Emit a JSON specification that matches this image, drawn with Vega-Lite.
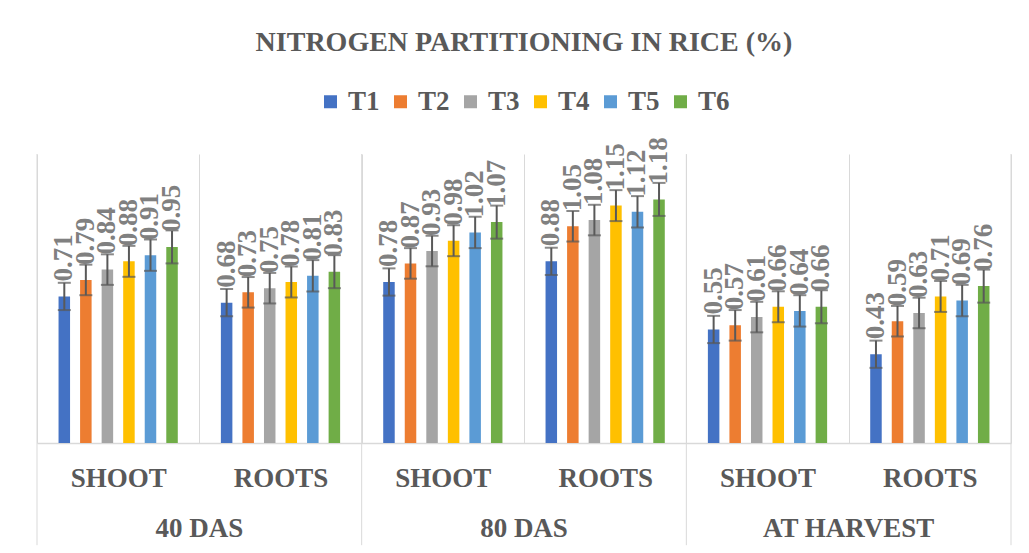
{
  "$schema": "https://vega.github.io/schema/vega-lite/v6.json",
  "width": 974,
  "height": 289,
  "autosize": {"type": "none"},
  "padding": {"left": 37, "top": 154, "right": 18, "bottom": 110},
  "background": "white",
  "title": {
    "text": "NITROGEN PARTITIONING IN RICE (%)",
    "font": "Liberation Serif",
    "fontSize": 28,
    "fontWeight": "bold",
    "color": "#595959",
    "anchor": "middle",
    "frame": "group",
    "offset": 31
  },
  "data": {
    "values": [
      {"group": "40 DAS|SHOOT", "stage": "40 DAS", "part": "SHOOT", "trt": "T1", "value": 0.71, "err": 0.066},
      {"group": "40 DAS|SHOOT", "stage": "40 DAS", "part": "SHOOT", "trt": "T2", "value": 0.79, "err": 0.074},
      {"group": "40 DAS|SHOOT", "stage": "40 DAS", "part": "SHOOT", "trt": "T3", "value": 0.84, "err": 0.074},
      {"group": "40 DAS|SHOOT", "stage": "40 DAS", "part": "SHOOT", "trt": "T4", "value": 0.88, "err": 0.075},
      {"group": "40 DAS|SHOOT", "stage": "40 DAS", "part": "SHOOT", "trt": "T5", "value": 0.91, "err": 0.076},
      {"group": "40 DAS|SHOOT", "stage": "40 DAS", "part": "SHOOT", "trt": "T6", "value": 0.95, "err": 0.080},
      {"group": "40 DAS|ROOTS", "stage": "40 DAS", "part": "ROOTS", "trt": "T1", "value": 0.68, "err": 0.066},
      {"group": "40 DAS|ROOTS", "stage": "40 DAS", "part": "ROOTS", "trt": "T2", "value": 0.73, "err": 0.074},
      {"group": "40 DAS|ROOTS", "stage": "40 DAS", "part": "ROOTS", "trt": "T3", "value": 0.75, "err": 0.074},
      {"group": "40 DAS|ROOTS", "stage": "40 DAS", "part": "ROOTS", "trt": "T4", "value": 0.78, "err": 0.075},
      {"group": "40 DAS|ROOTS", "stage": "40 DAS", "part": "ROOTS", "trt": "T5", "value": 0.81, "err": 0.076},
      {"group": "40 DAS|ROOTS", "stage": "40 DAS", "part": "ROOTS", "trt": "T6", "value": 0.83, "err": 0.080},
      {"group": "80 DAS|SHOOT", "stage": "80 DAS", "part": "SHOOT", "trt": "T1", "value": 0.78, "err": 0.066},
      {"group": "80 DAS|SHOOT", "stage": "80 DAS", "part": "SHOOT", "trt": "T2", "value": 0.87, "err": 0.074},
      {"group": "80 DAS|SHOOT", "stage": "80 DAS", "part": "SHOOT", "trt": "T3", "value": 0.93, "err": 0.074},
      {"group": "80 DAS|SHOOT", "stage": "80 DAS", "part": "SHOOT", "trt": "T4", "value": 0.98, "err": 0.075},
      {"group": "80 DAS|SHOOT", "stage": "80 DAS", "part": "SHOOT", "trt": "T5", "value": 1.02, "err": 0.076},
      {"group": "80 DAS|SHOOT", "stage": "80 DAS", "part": "SHOOT", "trt": "T6", "value": 1.07, "err": 0.080},
      {"group": "80 DAS|ROOTS", "stage": "80 DAS", "part": "ROOTS", "trt": "T1", "value": 0.88, "err": 0.066},
      {"group": "80 DAS|ROOTS", "stage": "80 DAS", "part": "ROOTS", "trt": "T2", "value": 1.05, "err": 0.074},
      {"group": "80 DAS|ROOTS", "stage": "80 DAS", "part": "ROOTS", "trt": "T3", "value": 1.08, "err": 0.074},
      {"group": "80 DAS|ROOTS", "stage": "80 DAS", "part": "ROOTS", "trt": "T4", "value": 1.15, "err": 0.075},
      {"group": "80 DAS|ROOTS", "stage": "80 DAS", "part": "ROOTS", "trt": "T5", "value": 1.12, "err": 0.076},
      {"group": "80 DAS|ROOTS", "stage": "80 DAS", "part": "ROOTS", "trt": "T6", "value": 1.18, "err": 0.080},
      {"group": "AT HARVEST|SHOOT", "stage": "AT HARVEST", "part": "SHOOT", "trt": "T1", "value": 0.55, "err": 0.066},
      {"group": "AT HARVEST|SHOOT", "stage": "AT HARVEST", "part": "SHOOT", "trt": "T2", "value": 0.57, "err": 0.074},
      {"group": "AT HARVEST|SHOOT", "stage": "AT HARVEST", "part": "SHOOT", "trt": "T3", "value": 0.61, "err": 0.074},
      {"group": "AT HARVEST|SHOOT", "stage": "AT HARVEST", "part": "SHOOT", "trt": "T4", "value": 0.66, "err": 0.075},
      {"group": "AT HARVEST|SHOOT", "stage": "AT HARVEST", "part": "SHOOT", "trt": "T5", "value": 0.64, "err": 0.076},
      {"group": "AT HARVEST|SHOOT", "stage": "AT HARVEST", "part": "SHOOT", "trt": "T6", "value": 0.66, "err": 0.080},
      {"group": "AT HARVEST|ROOTS", "stage": "AT HARVEST", "part": "ROOTS", "trt": "T1", "value": 0.43, "err": 0.066},
      {"group": "AT HARVEST|ROOTS", "stage": "AT HARVEST", "part": "ROOTS", "trt": "T2", "value": 0.59, "err": 0.074},
      {"group": "AT HARVEST|ROOTS", "stage": "AT HARVEST", "part": "ROOTS", "trt": "T3", "value": 0.63, "err": 0.074},
      {"group": "AT HARVEST|ROOTS", "stage": "AT HARVEST", "part": "ROOTS", "trt": "T4", "value": 0.71, "err": 0.075},
      {"group": "AT HARVEST|ROOTS", "stage": "AT HARVEST", "part": "ROOTS", "trt": "T5", "value": 0.69, "err": 0.076},
      {"group": "AT HARVEST|ROOTS", "stage": "AT HARVEST", "part": "ROOTS", "trt": "T6", "value": 0.76, "err": 0.080}
    ]
  },
  "encoding": {
    "x": {
      "field": "group",
      "type": "nominal",
      "sort": ["40 DAS|SHOOT", "40 DAS|ROOTS", "80 DAS|SHOOT", "80 DAS|ROOTS", "AT HARVEST|SHOOT", "AT HARVEST|ROOTS"],
      "scale": {"domain": ["40 DAS|SHOOT", "40 DAS|ROOTS", "80 DAS|SHOOT", "80 DAS|ROOTS", "AT HARVEST|SHOOT", "AT HARVEST|ROOTS"], "paddingInner": 0, "paddingOuter": 0},
      "axis": {
        "title": null,
        "labelAngle": 0,
        "labelExpr": "split(datum.value, '|')[1]",
        "labelFont": "Liberation Serif",
        "labelFontSize": 27,
        "labelFontWeight": "bold",
        "labelColor": "#595959",
        "labelPadding": 22,
        "labelBaseline": "top",
        "ticks": false,
        "tickBand": "extent",
        "grid": true,
        "gridColor": "#d9d9d9",
        "gridWidth": 1,
        "domainColor": "#d9d9d9",
        "domainWidth": 1.5
      }
    },
    "y": {
      "field": "value",
      "type": "quantitative",
      "scale": {"domain": [0, 1.4], "nice": false, "zero": true},
      "axis": null
    }
  },
  "layer": [
    {
      "transform": [{"filter": "datum.trt == 'T1' && datum.part == 'SHOOT'"}],
      "mark": {"type": "rule", "color": "#d9d9d9", "strokeWidth": 1},
      "encoding": {
        "x": {"field": "group", "type": "nominal", "sort": ["40 DAS|SHOOT", "40 DAS|ROOTS", "80 DAS|SHOOT", "80 DAS|ROOTS", "AT HARVEST|SHOOT", "AT HARVEST|ROOTS"], "bandPosition": 0},
        "y": {"datum": 1.4},
        "y2": {"datum": -0.495}
      }
    },
    {
      "transform": [{"filter": "datum.trt == 'T1' && datum.group == 'AT HARVEST|ROOTS'"}],
      "mark": {"type": "rule", "color": "#d9d9d9", "strokeWidth": 1},
      "encoding": {
        "x": {"field": "group", "type": "nominal", "sort": ["40 DAS|SHOOT", "40 DAS|ROOTS", "80 DAS|SHOOT", "80 DAS|ROOTS", "AT HARVEST|SHOOT", "AT HARVEST|ROOTS"], "bandPosition": 1},
        "y": {"datum": 1.4},
        "y2": {"datum": -0.495}
      }
    },
    {
      "mark": {"type": "bar"},
      "encoding": {
        "xOffset": {"field": "trt", "type": "nominal", "scale": {"paddingInner": 0.466, "paddingOuter": 1.165}},
        "color": {
          "field": "trt",
          "type": "nominal",
          "scale": {"domain": ["T1", "T2", "T3", "T4", "T5", "T6"], "range": ["#4472C4", "#ED7D31", "#A5A5A5", "#FFC000", "#5B9BD5", "#70AD47"]},
          "legend": {
            "title": null,
            "orient": "none",
            "direction": "horizontal",
            "legendX": 280,
            "legendY": -66,
            "symbolType": "square",
            "symbolSize": 169,
            "symbolStrokeWidth": 0,
            "labelFont": "Liberation Serif",
            "labelFontSize": 27,
            "labelFontWeight": "bold",
            "labelColor": "#595959",
            "labelOffset": 4,
            "columnPadding": 7,
            "padding": 0
          }
        }
      }
    },
    {
      "mark": {"type": "errorbar", "ticks": {"size": 13, "thickness": 2, "color": "#595959"}, "rule": {"strokeWidth": 2, "color": "#595959"}},
      "encoding": {
        "xOffset": {"field": "trt", "type": "nominal", "scale": {"paddingInner": 0.466, "paddingOuter": 1.165}},
        "yError": {"field": "err"}
      }
    },
    {
      "mark": {"type": "text", "angle": 270, "align": "left", "baseline": "middle", "dx": 15, "font": "Liberation Serif", "fontSize": 27, "fontWeight": "bold", "color": "#808080"},
      "encoding": {
        "xOffset": {"field": "trt", "type": "nominal", "scale": {"paddingInner": 0.466, "paddingOuter": 1.165}},
        "text": {"field": "value", "type": "quantitative", "format": ".2f"}
      }
    },
    {
      "transform": [{"filter": "datum.trt == 'T1' && datum.part == 'SHOOT'"}],
      "mark": {"type": "text", "align": "center", "baseline": "middle", "font": "Liberation Serif", "fontSize": 27, "fontWeight": "bold", "color": "#595959"},
      "encoding": {
        "x": {"field": "group", "type": "nominal", "sort": ["40 DAS|SHOOT", "40 DAS|ROOTS", "80 DAS|SHOOT", "80 DAS|ROOTS", "AT HARVEST|SHOOT", "AT HARVEST|ROOTS"], "bandPosition": 1},
        "y": {"datum": -0.417},
        "text": {"field": "stage", "type": "nominal"}
      }
    }
  ],
  "config": {
    "view": {"stroke": null}
  }
}
